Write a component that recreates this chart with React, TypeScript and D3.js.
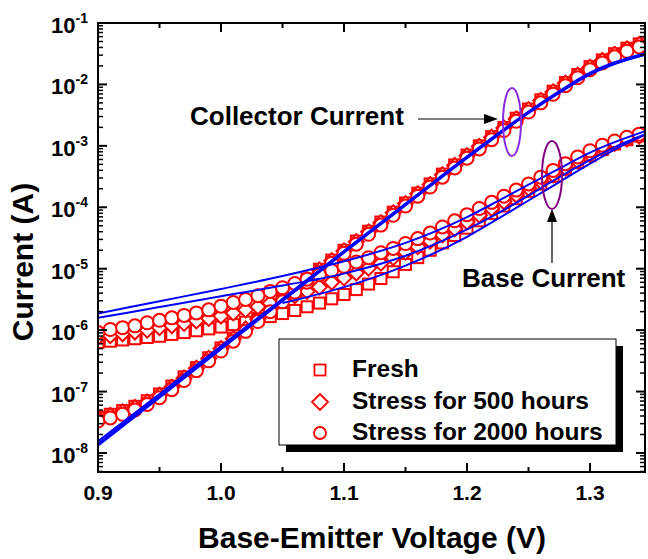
import React from 'react';
import * as d3 from 'd3';

// Base-emitter voltages of the measured points (V)
const markerVolts = [
  0.90, 0.91, 0.92, 0.93, 0.94, 0.95, 0.96, 0.97, 0.98, 0.99,
  1.00, 1.01, 1.02, 1.03, 1.04, 1.05, 1.06, 1.07, 1.08, 1.09,
  1.10, 1.11, 1.12, 1.13, 1.14, 1.15, 1.16, 1.17, 1.18, 1.19,
  1.20, 1.21, 1.22, 1.23, 1.24, 1.25, 1.26, 1.27, 1.28, 1.29,
  1.30, 1.31, 1.32, 1.33, 1.34,
];

// Measured currents, given as log10(I / A)
const icFreshLog = [
  -7.42, -7.37, -7.31, -7.24, -7.15, -7.04, -6.91, -6.76, -6.61, -6.45,
  -6.29, -6.13, -5.97, -5.81, -5.65, -5.49, -5.33, -5.17, -5.01, -4.86,
  -4.70, -4.55, -4.39, -4.24, -4.08, -3.93, -3.77, -3.62, -3.46, -3.31,
  -3.15, -3.00, -2.85, -2.70, -2.55, -2.40, -2.25, -2.11, -1.97, -1.84,
  -1.71, -1.60, -1.50, -1.41, -1.34,
];
const icStress500Log = [
  -7.44, -7.39, -7.33, -7.26, -7.17, -7.06, -6.93, -6.78, -6.62, -6.46,
  -6.30, -6.14, -5.98, -5.82, -5.66, -5.50, -5.34, -5.18, -5.02, -4.87,
  -4.71, -4.56, -4.40, -4.25, -4.09, -3.94, -3.78, -3.63, -3.47, -3.32,
  -3.16, -3.01, -2.86, -2.71, -2.56, -2.41, -2.26, -2.12, -1.98, -1.85,
  -1.72, -1.61, -1.51, -1.42, -1.35,
];
const icStress2000Log = [
  -7.48, -7.43, -7.37, -7.30, -7.21, -7.10, -6.97, -6.82, -6.66, -6.50,
  -6.34, -6.18, -6.02, -5.86, -5.70, -5.54, -5.38, -5.22, -5.06, -4.91,
  -4.75, -4.60, -4.44, -4.29, -4.13, -3.98, -3.82, -3.67, -3.51, -3.36,
  -3.20, -3.05, -2.90, -2.75, -2.60, -2.45, -2.30, -2.16, -2.02, -1.89,
  -1.76, -1.65, -1.55, -1.46, -1.39,
];
const ibFreshLog = [
  -6.20, -6.18, -6.16, -6.14, -6.12, -6.10, -6.07, -6.04, -6.01, -5.98,
  -5.95, -5.91, -5.87, -5.83, -5.78, -5.73, -5.68, -5.62, -5.56, -5.49,
  -5.42, -5.34, -5.25, -5.16, -5.05, -4.93, -4.82, -4.70, -4.58, -4.46,
  -4.34, -4.22, -4.10, -3.98, -3.86, -3.74, -3.62, -3.50, -3.38, -3.27,
  -3.16, -3.06, -2.97, -2.90, -2.84,
];
const ibStress500Log = [
  -6.12, -6.09, -6.06, -6.03, -6.00, -5.96, -5.93, -5.89, -5.85, -5.81,
  -5.77, -5.72, -5.67, -5.62, -5.56, -5.50, -5.44, -5.37, -5.30, -5.22,
  -5.15, -5.07, -4.99, -4.91, -4.82, -4.73, -4.64, -4.55, -4.45, -4.35,
  -4.24, -4.13, -4.02, -3.91, -3.80, -3.69, -3.58, -3.47, -3.36, -3.25,
  -3.14, -3.04, -2.96, -2.89, -2.84,
];
const ibStress2000Log = [
  -6.04, -5.99, -5.96, -5.93, -5.88, -5.84, -5.80, -5.76, -5.72, -5.67,
  -5.61, -5.55, -5.50, -5.44, -5.37, -5.31, -5.24, -5.17, -5.10, -5.03,
  -4.96, -4.89, -4.82, -4.74, -4.67, -4.59, -4.51, -4.42, -4.32, -4.22,
  -4.12, -4.02, -3.92, -3.82, -3.72, -3.62, -3.51, -3.40, -3.29, -3.18,
  -3.08, -2.99, -2.92, -2.86, -2.81,
];

// Model fits (blue lines), log10(I / A)
const fitVolts = [0.90, 0.95, 1.00, 1.05, 1.10, 1.15, 1.20, 1.225, 1.25, 1.275, 1.30, 1.32, 1.345];
const icFitFreshLog = [-7.88, -7.10, -6.31, -5.53, -4.74, -3.97, -3.20, -2.83, -2.47, -2.14, -1.84, -1.67, -1.52];
const icFit500Log = [-7.85, -7.07, -6.29, -5.51, -4.73, -3.96, -3.19, -2.82, -2.46, -2.13, -1.83, -1.66, -1.51];
const icFit2000Log = [-7.81, -7.04, -6.26, -5.49, -4.71, -3.94, -3.17, -2.80, -2.44, -2.11, -1.81, -1.64, -1.49];
const ibFitFreshLog = [null, null, null, -5.56, -5.30, -4.95, -4.48, -4.19, -3.89, -3.59, -3.29, -3.06, -2.82];
const ibFit500Log = [-5.80, -5.625, -5.45, -5.275, -5.08, -4.79, -4.36, -4.10, -3.81, -3.51, -3.23, -3.02, -2.81];
const ibFit2000Log = [-5.73, -5.53, -5.33, -5.12, -4.88, -4.58, -4.16, -3.90, -3.63, -3.37, -3.11, -2.94, -2.76];

// Axis ticks
const xMajorTicks = [0.9, 1.0, 1.1, 1.2, 1.3];
const xMinorTicks = [0.95, 1.05, 1.15, 1.25];
const yDecades = [-8, -7, -6, -5, -4, -3, -2, -1];
const yMinorMultipliers = [2, 3, 4, 5, 6, 7, 8, 9];

const legendLabels = ['Fresh', 'Stress for 500 hours', 'Stress for 2000 hours'];

const L = 98, R = 645, T = 23, B = 472;
const RED = '#ff0000';
const BLUE = '#0000ff';
const FONT = '"Liberation Sans", Arial, Helvetica, sans-serif';

const x = d3.scaleLinear().domain([0.9, 1.3447]).range([L, R]);
const y = d3.scaleLog().domain([4.9e-9, 0.1]).range([B, T]);

const pow = (v: number) => Math.pow(10, v);

function fitPath(vals: (number | null)[]) {
  const pts = fitVolts.map((v, i) => [v, vals[i]] as [number, number | null]);
  const line = d3
    .line<[number, number | null]>()
    .defined((d) => d[1] != null)
    .x((d) => x(d[0]))
    .y((d) => y(pow(d[1] as number)))
    .curve(d3.curveMonotoneX);
  return line(pts) || '';
}

function Square({ cx, cy, s, w = 2 }: { cx: number; cy: number; s: number; w?: number }) {
  return <rect x={cx - s / 2} y={cy - s / 2} width={s} height={s} fill="#fff" stroke={RED} strokeWidth={w} />;
}
function Diamond({ cx, cy, s, w = 2 }: { cx: number; cy: number; s: number; w?: number }) {
  return (
    <path
      d={`M${cx},${cy - s}L${cx + s},${cy}L${cx},${cy + s}L${cx - s},${cy}Z`}
      fill="#fff"
      stroke={RED}
      strokeWidth={w}
    />
  );
}
function Circle({ cx, cy, r, w = 2 }: { cx: number; cy: number; r: number; w?: number }) {
  return <circle cx={cx} cy={cy} r={r} fill="#fff" stroke={RED} strokeWidth={w} />;
}

export default function App() {
  const yMinor: number[] = [];
  yDecades.concat([-9]).forEach((d) => {
    yMinorMultipliers.forEach((m) => {
      const v = m * Math.pow(10, d);
      if (v >= 4.9e-9 && v <= 0.1) yMinor.push(v);
    });
  });

  const squares = [icFreshLog, ibFreshLog];
  const diamonds = [icStress500Log, ibStress500Log];
  const circles = [icStress2000Log, ibStress2000Log];

  return (
    <svg width={648} height={559} style={{ display: 'block', position: 'absolute', left: 0, top: 0 }} fontFamily={FONT}>
      <rect x={0} y={0} width={648} height={559} fill="#fff" />
      <defs>
        <clipPath id="plotClip">
          <rect x={L} y={T} width={R - L} height={B - T} />
        </clipPath>
      </defs>

      {/* markers */}
      <g clipPath="url(#plotClip)">
        {squares.map((s, si) =>
          s.map((v, i) => <Square key={`s${si}-${i}`} cx={x(markerVolts[i])} cy={y(pow(v))} s={11} />)
        )}
        {diamonds.map((s, si) =>
          s.map((v, i) => <Diamond key={`d${si}-${i}`} cx={x(markerVolts[i])} cy={y(pow(v))} s={7.5} />)
        )}
        {circles.map((s, si) =>
          s.map((v, i) => <Circle key={`c${si}-${i}`} cx={x(markerVolts[i])} cy={y(pow(v))} r={6.5} />)
        )}
        {/* fits */}
        {[icFitFreshLog, icFit500Log, icFit2000Log, ibFitFreshLog, ibFit500Log, ibFit2000Log].map((f, i) => (
          <path key={`f${i}`} d={fitPath(f)} fill="none" stroke={BLUE} strokeWidth={2} />
        ))}
      </g>

      {/* frame */}
      <rect x={L} y={T} width={R - L} height={B - T} fill="none" stroke="#000" strokeWidth={2} />

      {/* x ticks */}
      {xMajorTicks.map((t) => (
        <g key={`xm${t}`}>
          <line x1={x(t)} x2={x(t)} y1={B} y2={B - 9} stroke="#000" strokeWidth={2} />
          <line x1={x(t)} x2={x(t)} y1={T} y2={T + 9} stroke="#000" strokeWidth={2} />
          <text x={x(t)} y={500} textAnchor="middle" fontSize={21} fontWeight="bold">
            {t.toFixed(1)}
          </text>
        </g>
      ))}
      {xMinorTicks.map((t) => (
        <g key={`xn${t}`}>
          <line x1={x(t)} x2={x(t)} y1={B} y2={B - 5} stroke="#000" strokeWidth={2} />
          <line x1={x(t)} x2={x(t)} y1={T} y2={T + 5} stroke="#000" strokeWidth={2} />
        </g>
      ))}

      {/* y ticks */}
      {yDecades.map((d) => {
        const yy = y(Math.pow(10, d));
        return (
          <g key={`ym${d}`}>
            <line x1={L} x2={L + 9} y1={yy} y2={yy} stroke="#000" strokeWidth={2} />
            <line x1={R} x2={R - 9} y1={yy} y2={yy} stroke="#000" strokeWidth={2} />
            <text x={88} y={yy + 10} textAnchor="end" fontSize={22} fontWeight="bold">
              <tspan>10</tspan>
              <tspan dy={-10} fontSize={14}>{`${d}`}</tspan>
            </text>
          </g>
        );
      })}
      {yMinor.map((v, i) => {
        const yy = y(v);
        return (
          <g key={`yn${i}`}>
            <line x1={L} x2={L + 5} y1={yy} y2={yy} stroke="#000" strokeWidth={1.5} />
            <line x1={R} x2={R - 5} y1={yy} y2={yy} stroke="#000" strokeWidth={1.5} />
          </g>
        );
      })}

      {/* axis titles */}
      <text x={372} y={548} textAnchor="middle" fontSize={30} fontWeight="bold">
        Base-Emitter Voltage (V)
      </text>
      <text transform={`translate(33,${262}) rotate(-90)`} textAnchor="middle" fontSize={30} fontWeight="bold">
        Current (A)
      </text>

      {/* annotations */}
      <text x={190} y={125} fontSize={26} fontWeight="bold">Collector Current</text>
      <line x1={418} y1={119} x2={486} y2={119} stroke="#000" strokeWidth={1.2} />
      <path d="M498,119L484,114L484,124Z" fill="#000" />
      <ellipse cx={512} cy={122} rx={9} ry={34} fill="none" stroke="#8a2be2" strokeWidth={2} />

      <text x={462} y={287} fontSize={26} fontWeight="bold">Base Current</text>
      <line x1={552} y1={263} x2={552} y2={220} stroke="#000" strokeWidth={1.2} />
      <path d="M552,209L547,222L557,222Z" fill="#000" />
      <ellipse cx={552} cy={175} rx={10} ry={34} fill="none" stroke="#800080" strokeWidth={2} />

      {/* legend */}
      <rect x={286} y={346} width={337} height={106} fill="#000" />
      <rect x={279} y={339} width={337} height={106} fill="#fff" stroke="#000" strokeWidth={1} />
      <Square cx={320} cy={370} s={11} w={1.8} />
      <Diamond cx={320} cy={402} s={8} w={1.8} />
      <Circle cx={320} cy={433} r={6} w={1.8} />
      {legendLabels.map((lab, i) => (
        <text key={lab} x={352} y={377 + i * 31.5} fontSize={24.5} fontWeight="bold">
          {lab}
        </text>
      ))}
    </svg>
  );
}
